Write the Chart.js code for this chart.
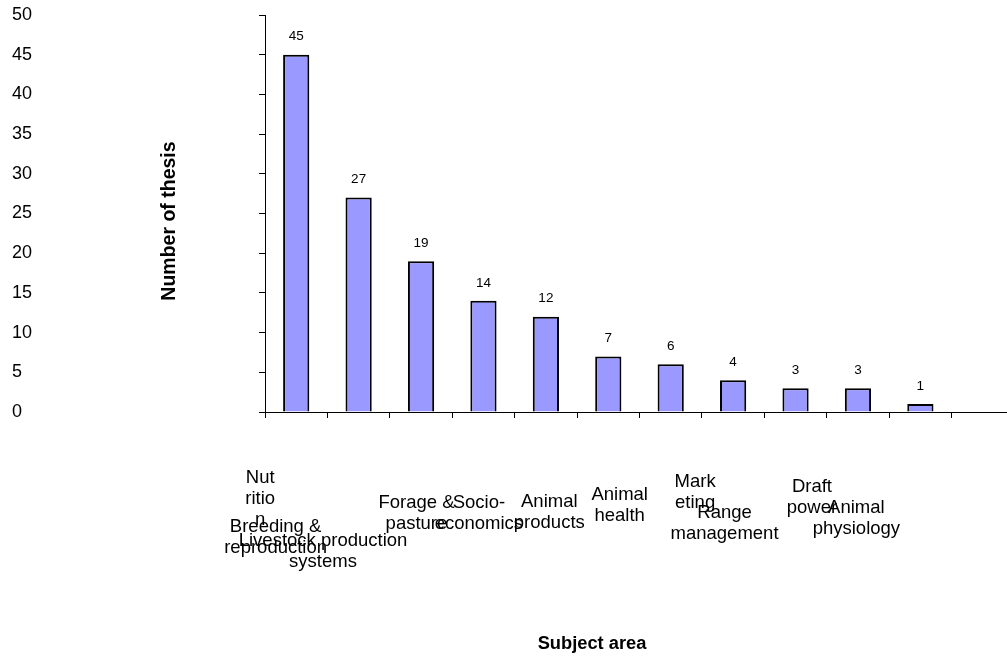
<!DOCTYPE html>
<html>
<head>
<meta charset="utf-8">
<script src="https://cdn.jsdelivr.net/npm/chart.js@4/dist/chart.umd.min.js"></script>
<style>
  html, body { margin: 0; padding: 0; background: #fff; overflow: hidden; }
  #wrap { position: relative; width: 1014px; height: 657px; }
</style>
</head>
<body>
<div id="wrap"><canvas id="c"></canvas></div>
<script>
// Subject areas (the last slot is an empty category on the axis)
const subjects = [
  "Nutrition", "Breeding & reproduction", "Livestock production systems",
  "Forage & pasture", "Socio-economics", "Animal products", "Animal health",
  "Marketing", "Range management", "Draft power", "Animal physiology", ""
];
// How each subject label breaks into lines under the axis
const subjectLines = [
  ["Nut", "ritio", "n"], ["Breeding &", "reproduction"], ["Livestock production", "systems"],
  ["Forage &", "pasture"], ["Socio-", "economics"], ["Animal", "products"],
  ["Animal", "health"], ["Mark", "eting"], ["Range", "management"],
  ["Draft", "power"], ["Animal", "physiology"]
];
// Number of theses per subject area
const theses = [45, 27, 19, 14, 12, 7, 6, 4, 3, 3, 1, null];
// Value axis ticks
const yTicks = [0, 5, 10, 15, 20, 25, 30, 35, 40, 45, 50];

// Label placement under the axis: [shift from category centre, first line below axis]
const labelPlacement = [
  [-36, 66], [-83, 115], [-98, 129], [-67, 91], [-67, 91], [-59, 90],
  [-51, 83], [-38, 70], [-71, 101], [-46, 75], [-64, 96]
];

const FONT = '"Liberation Sans", Arial, sans-serif';

const annotations = {
  id: 'annotations',
  afterDraw(chart) {
    const ctx = chart.ctx;
    const area = chart.chartArea;
    const xs = chart.scales.x;
    ctx.save();
    ctx.fillStyle = '#000';

    // values above the bars
    ctx.font = '13.5px ' + FONT;
    ctx.textAlign = 'center';
    ctx.textBaseline = 'middle';
    const meta = chart.getDatasetMeta(0);
    meta.data.forEach((bar, i) => {
      if (theses[i] == null) return;
      ctx.fillText(String(theses[i]), bar.x, bar.y - 18);
    });

    // category labels
    ctx.font = '18.5px ' + FONT;
    subjectLines.forEach((lines, i) => {
      const [dx, dy] = labelPlacement[i];
      const cx = xs.getPixelForValue(i) + dx;
      lines.forEach((t, j) => ctx.fillText(t, cx, area.bottom + dy + j * 21));
    });

    // axis titles
    ctx.font = 'bold 18.3px ' + FONT;
    ctx.fillText('Subject area', 592, 644);
    ctx.font = 'bold 19.5px ' + FONT;
    ctx.translate(170, 221);
    ctx.rotate(-Math.PI / 2);
    ctx.fillText('Number of thesis', 0, 0);
    ctx.restore();
  }
};

new Chart(document.getElementById('c'), {
  type: 'bar',
  data: {
    labels: subjects,
    datasets: [{
      data: theses,
      backgroundColor: '#9999FF',
      borderColor: '#000000',
      borderWidth: 2,
      barPercentage: 0.42,
      categoryPercentage: 1.0
    }]
  },
  options: {
    responsive: true,
    maintainAspectRatio: false,
    animation: false,
    layout: { padding: { left: 12, top: 15, right: 0, bottom: 0 } },
    plugins: { legend: { display: false }, tooltip: { enabled: false } },
    scales: {
      x: {
        offset: true,
        grid: { offset: true, drawOnChartArea: false, drawTicks: true, tickLength: 6, color: '#000' },
        border: { display: true, color: '#000', width: 1 },
        ticks: { display: false },
        afterFit(s) { s.height = 245; }
      },
      y: {
        min: 0, max: 50,
        afterBuildTicks(s) { s.ticks = yTicks.map(v => ({ value: v })); },
        grid: { drawOnChartArea: false, drawTicks: true, tickLength: 6, color: '#000' },
        border: { display: true, color: '#000', width: 1 },
        ticks: { crossAlign: 'far', color: '#000', padding: 0, font: { family: FONT, size: 18 } },
        afterFit(s) { s.width = 253; }
      }
    }
  },
  plugins: [annotations]
});
</script>
</body>
</html>
